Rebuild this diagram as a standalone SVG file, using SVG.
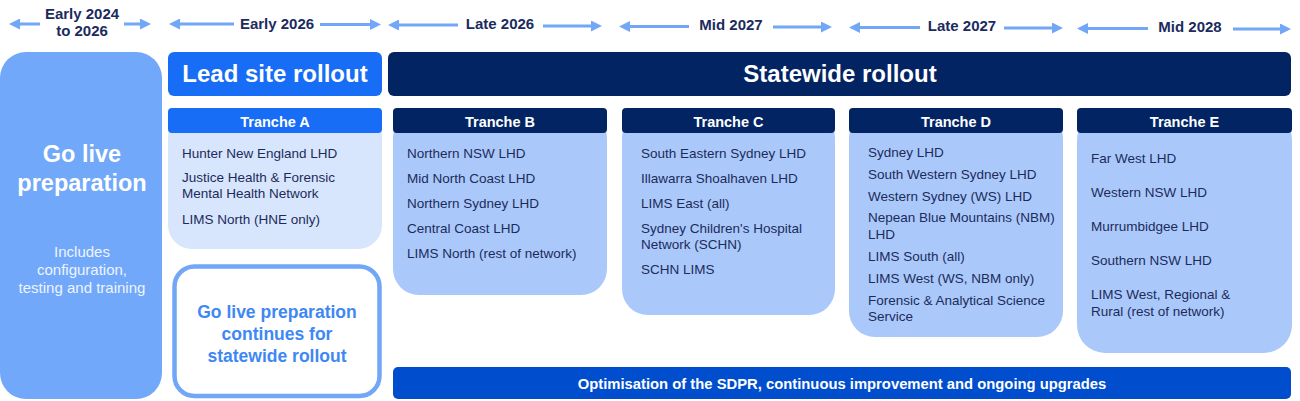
<svg xmlns="http://www.w3.org/2000/svg" width="1300" height="401" viewBox="0 0 1300 401">
<defs>
<marker id="ah" markerUnits="userSpaceOnUse" markerWidth="11" markerHeight="11" refX="4" refY="5.5" orient="auto">
<path d="M0,0 L11,5.5 L0,11 z" fill="#72a6f6"/>
</marker>
</defs>
<style>
text{font-family:"Liberation Sans",Arial,sans-serif}
.date{font-size:15px;font-weight:bold;fill:#1b2b5e;text-anchor:middle}
.arr{stroke:#72a6f6;stroke-width:3;fill:none;marker-end:url(#ah)}
.big{font-size:24px;font-weight:bold;fill:#ffffff;text-anchor:middle}
.th{font-size:14.5px;font-weight:bold;fill:#ffffff;text-anchor:middle}
.item{font-size:13.5px;fill:#1c2b5a}
.navy{fill:#022463}
.bright{fill:#176df5}
.bodyB{fill:#aac9fa}
</style>
<rect width="1300" height="401" fill="#ffffff"/>

<g id="timeline">
<text class="date" x="82" y="19">Early 2024</text>
<text class="date" x="82" y="36">to 2026</text>
<text class="date" x="277" y="28.5">Early 2026</text>
<text class="date" x="500" y="29">Late 2026</text>
<text class="date" x="731" y="30">Mid 2027</text>
<text class="date" x="962" y="30.5">Late 2027</text>
<text class="date" x="1190" y="31.5">Mid 2028</text>
</g>

<g id="connectors">
<line class="arr" x1="40" y1="24" x2="16" y2="24"/>
<line class="arr" x1="124" y1="24" x2="144" y2="24"/>
<line class="arr" x1="234" y1="24" x2="176" y2="24"/>
<line class="arr" x1="320" y1="24.5" x2="374" y2="24.5"/>
<line class="arr" x1="458" y1="25" x2="395" y2="25"/>
<line class="arr" x1="543" y1="26" x2="595" y2="26"/>
<line class="arr" x1="689" y1="26.5" x2="626" y2="26.5"/>
<line class="arr" x1="773" y1="27" x2="825" y2="27"/>
<line class="arr" x1="920" y1="27.5" x2="856" y2="27.5"/>
<line class="arr" x1="1004" y1="28" x2="1056" y2="28"/>
<line class="arr" x1="1148" y1="28.5" x2="1084" y2="28.5"/>
<line class="arr" x1="1233" y1="29" x2="1284" y2="29"/>
</g>

<g id="go-live-preparation">
<rect x="0" y="52" width="162" height="347" rx="26" fill="#71a8f9"/>
<text x="82" y="162" font-size="23.5" font-weight="bold" fill="#ffffff" text-anchor="middle">Go live</text>
<text x="82" y="191" font-size="23.5" font-weight="bold" fill="#ffffff" text-anchor="middle">preparation</text>
<text x="82" y="257" font-size="15" fill="#eef4ff" text-anchor="middle">Includes</text>
<text x="82" y="275" font-size="15" fill="#eef4ff" text-anchor="middle">configuration,</text>
<text x="82" y="293" font-size="15" fill="#eef4ff" text-anchor="middle">testing and training</text>
</g>

<g id="lead-site-rollout">
<rect class="bright" x="168" y="52" width="214" height="44" rx="6"/>
<text class="big" x="275" y="82">Lead site rollout</text>
</g>

<g id="statewide-rollout">
<rect class="navy" x="388" y="52" width="903" height="44" rx="6"/>
<text class="big" x="840" y="82">Statewide rollout</text>
</g>

<g id="tranche-a">
<rect x="168" y="112" width="214" height="137" rx="24" fill="#d8e6fd"/>
<rect class="bright" x="168" y="108" width="214" height="25" rx="4"/>
<text class="th" x="275" y="126.5">Tranche A</text>
<text class="item" x="182" y="158">Hunter New England LHD</text>
<text class="item" x="182" y="182">Justice Health &amp; Forensic</text>
<text class="item" x="182" y="198">Mental Health Network</text>
<text class="item" x="182" y="224">LIMS North (HNE only)</text>
</g>

<g id="go-live-continues">
<rect x="174.5" y="266.5" width="205" height="129.5" rx="20" fill="#ffffff" stroke="#72a6f6" stroke-width="4.5"/>
<text x="277" y="318" font-size="17.5" font-weight="bold" fill="#3d88f5" text-anchor="middle">Go live preparation</text>
<text x="277" y="340" font-size="17.5" font-weight="bold" fill="#3d88f5" text-anchor="middle">continues for</text>
<text x="277" y="362" font-size="17.5" font-weight="bold" fill="#3d88f5" text-anchor="middle">statewide rollout</text>
</g>

<g id="tranche-b">
<rect class="bodyB" x="393" y="112" width="214" height="183" rx="26"/>
<rect class="navy" x="393" y="108" width="214" height="25" rx="4"/>
<text class="th" x="500" y="126.5">Tranche B</text>
<text class="item" x="407" y="158">Northern NSW LHD</text>
<text class="item" x="407" y="183">Mid North Coast LHD</text>
<text class="item" x="407" y="208">Northern Sydney LHD</text>
<text class="item" x="407" y="233">Central Coast LHD</text>
<text class="item" x="407" y="258">LIMS North (rest of network)</text>
</g>

<g id="tranche-c">
<rect class="bodyB" x="622" y="112" width="213" height="203" rx="26"/>
<rect class="navy" x="622" y="108" width="213" height="25" rx="4"/>
<text class="th" x="728.5" y="126.5">Tranche C</text>
<text class="item" x="641" y="158">South Eastern Sydney LHD</text>
<text class="item" x="641" y="183">Illawarra Shoalhaven LHD</text>
<text class="item" x="641" y="208">LIMS East (all)</text>
<text class="item" x="641" y="233">Sydney Children's Hospital</text>
<text class="item" x="641" y="249">Network (SCHN)</text>
<text class="item" x="641" y="274">SCHN LIMS</text>
</g>

<g id="tranche-d">
<rect class="bodyB" x="849" y="112" width="214" height="225" rx="26"/>
<rect class="navy" x="849" y="108" width="214" height="25" rx="4"/>
<text class="th" x="956" y="126.5">Tranche D</text>
<text class="item" x="868" y="157">Sydney LHD</text>
<text class="item" x="868" y="179">South Western Sydney LHD</text>
<text class="item" x="868" y="201">Western Sydney (WS) LHD</text>
<text class="item" x="868" y="222">Nepean Blue Mountains (NBM)</text>
<text class="item" x="868" y="239">LHD</text>
<text class="item" x="868" y="261">LIMS South (all)</text>
<text class="item" x="868" y="283">LIMS West (WS, NBM only)</text>
<text class="item" x="868" y="305">Forensic &amp; Analytical Science</text>
<text class="item" x="868" y="321">Service</text>
</g>

<g id="tranche-e">
<rect class="bodyB" x="1077" y="112" width="215" height="241" rx="28"/>
<rect class="navy" x="1077" y="108" width="215" height="25" rx="4"/>
<text class="th" x="1184.5" y="126.5">Tranche E</text>
<text class="item" x="1091" y="163">Far West LHD</text>
<text class="item" x="1091" y="197">Western NSW LHD</text>
<text class="item" x="1091" y="231">Murrumbidgee LHD</text>
<text class="item" x="1091" y="265">Southern NSW LHD</text>
<text class="item" x="1091" y="299">LIMS West, Regional &amp;</text>
<text class="item" x="1091" y="316">Rural (rest of network)</text>
</g>

<g id="optimisation">
<rect x="393" y="367" width="898" height="32" rx="5" fill="#004ecd"/>
<text x="842" y="388.5" font-size="14.8" font-weight="bold" fill="#ffffff" text-anchor="middle">Optimisation of the SDPR, continuous improvement and ongoing upgrades</text>
</g>
</svg>
